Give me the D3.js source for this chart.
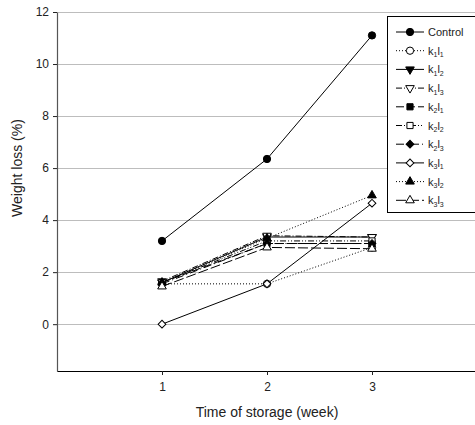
<!DOCTYPE html>
<html><head><meta charset="utf-8">
<script src="https://cdnjs.cloudflare.com/ajax/libs/d3/7.8.5/d3.min.js"></script>
<style>body{margin:0;background:#fff}svg{display:block}text{font-family:"Liberation Sans",Arial,sans-serif;}</style>
</head><body><svg id="c" width="475" height="425"></svg>
<script>
const weeks = [1, 2, 3];
const yTicks = [0, 2, 4, 6, 8, 10, 12];
const xTicks = [1, 2, 3];
const seriesNames = [["Control"], ["k","1","l","1"], ["k","1","l","2"], ["k","1","l","3"], ["k","2","l","1"], ["k","2","l","2"], ["k","2","l","3"], ["k","3","l","1"], ["k","3","l","2"], ["k","3","l","3"]];
const control = [3.2, 6.35, 11.1];
const k1l1 = [1.55, 1.55, 2.95];
const k1l2 = [1.6, 3.35, 3.35];
const k1l3 = [1.65, 3.4, 3.35];
const k2l1 = [1.6, 3.1, 3.1];
const k2l2 = [1.6, 3.2, 3.2];
const k2l3 = [1.55, 3.1, 3.1];
const k3l1 = [0, 1.55, 4.65];
const k3l2 = [1.6, 3.3, 4.95];
const k3l3 = [1.45, 2.95, 2.9];
const seriesValues = [control, k1l1, k1l2, k1l3, k2l1, k2l2, k2l3, k3l1, k3l2, k3l3];
const markers = [
  {t: "circle", fill: true}, {t: "circle", fill: false},
  {t: "tdown", fill: true}, {t: "tdown", fill: false},
  {t: "square", fill: true}, {t: "square", fill: false},
  {t: "diamond", fill: true}, {t: "diamond", fill: false},
  {t: "tup", fill: true}, {t: "tup", fill: false}
];
const dashes = [null, "1,2", null, "6,2,1,2", "8,3", "6,2,1,2,1,2", "8,3,1,3", null, "1,2", "10,3"];

const svg = d3.select("#c");
const x = d3.scaleLinear().domain([0, 4]).range([57, 477]);
const y = d3.scaleLinear().domain([-1.8, 12]).range([371, 12]);

svg.append("g").selectAll("line").data(yTicks).join("line")
  .attr("x1", 57).attr("x2", 475).attr("y1", d => y(d)).attr("y2", d => y(d))
  .attr("stroke", "#bdbdbd").attr("stroke-width", 1).attr("shape-rendering", "crispEdges");

const yAxis = svg.append("g").attr("transform", "translate(57,0)")
  .call(d3.axisLeft(y).tickValues(yTicks).tickFormat(d3.format("d")).tickSize(4).tickPadding(4).tickSizeOuter(0));
const xAxis = svg.append("g").attr("transform", "translate(0,371)")
  .call(d3.axisBottom(x).tickValues(xTicks).tickFormat(d3.format("d")).tickSize(4).tickPadding(7).tickSizeOuter(0));
[yAxis, xAxis].forEach(a => {
  a.selectAll("text").attr("font-size", 12).attr("fill", "#222").attr("font-family", "Liberation Sans, Arial, sans-serif");
  a.selectAll("line").attr("stroke", "#222");
  a.select(".domain").attr("stroke", "#000").attr("stroke-width", 1.2);
});
yAxis.select(".domain").attr("stroke", "#555");

svg.append("text").attr("transform", "translate(22,168) rotate(-90)").attr("text-anchor", "middle")
  .attr("font-size", 14).attr("fill", "#222").text("Weight loss (%)");
svg.append("text").attr("x", 267).attr("y", 417).attr("text-anchor", "middle")
  .attr("font-size", 14).attr("fill", "#222").text("Time of storage (week)");

function markerPath(m) {
  if (m.t === "circle") return d3.symbol().type(d3.symbolCircle).size(42)();
  if (m.t === "square") return d3.symbol().type(d3.symbolSquare).size(38)();
  if (m.t === "diamond") return d3.symbol().type(d3.symbolSquare).size(30)();
  return d3.symbol().type(d3.symbolTriangle).size(32)();
}
function rot(m) {
  if (m.t === "tdown") return " rotate(180)";
  if (m.t === "diamond") return " rotate(45)";
  return "";
}
const line = d3.line().x((d, i) => x(weeks[i])).y(d => y(d));

const plot = svg.append("g");
seriesValues.forEach((vals, si) => {
  plot.append("path").attr("d", line(vals)).attr("fill", "none").attr("stroke", "#000")
    .attr("stroke-width", 1).attr("stroke-dasharray", dashes[si]);
});
seriesValues.forEach((vals, si) => {
  const m = markers[si];
  plot.append("g").selectAll("path").data(vals).join("path")
    .attr("d", markerPath(m))
    .attr("transform", (d, i) => `translate(${x(weeks[i])},${y(d)})` + rot(m))
    .attr("fill", m.fill ? "#000" : "#fff").attr("stroke", "#000").attr("stroke-width", 1);
});

const lg = svg.append("g");
lg.append("rect").attr("x", 387.5).attr("y", 16.5).attr("width", 100).attr("height", 196)
  .attr("fill", "#fff").attr("stroke", "#000").attr("stroke-width", 1);
seriesNames.forEach((nm, i) => {
  const yy = 32 + i * 18.7;
  const m = markers[i];
  lg.append("line").attr("x1", 396).attr("x2", 424).attr("y1", yy).attr("y2", yy)
    .attr("stroke", "#000").attr("stroke-width", 1).attr("stroke-dasharray", dashes[i]);
  lg.append("path").attr("d", markerPath(m))
    .attr("transform", `translate(410,${yy})` + rot(m))
    .attr("fill", m.fill ? "#000" : "#fff").attr("stroke", "#000");
  const t = lg.append("text").attr("x", 428).attr("y", yy + 4).attr("font-size", 11).attr("fill", "#222");
  if (nm.length === 1) { t.text(nm[0]); }
  else {
    t.append("tspan").text(nm[0]);
    t.append("tspan").attr("font-size", 7).attr("dy", 2.5).text(nm[1]);
    t.append("tspan").attr("dy", -2.5).text(nm[2]);
    t.append("tspan").attr("font-size", 7).attr("dy", 2.5).text(nm[3]);
  }
});
</script></body></html>
